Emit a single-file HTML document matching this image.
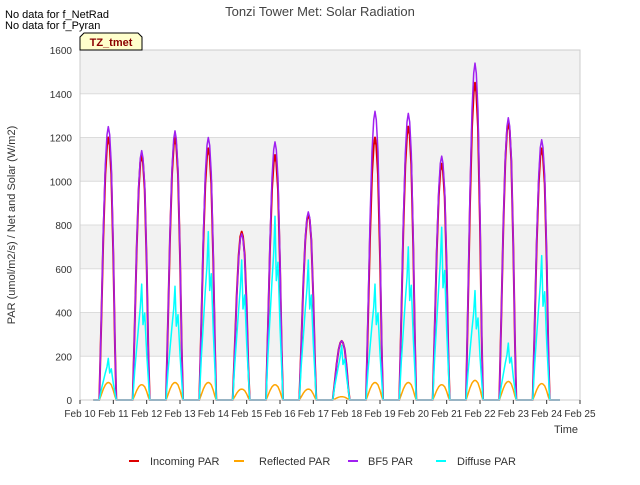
<!DOCTYPE html>
<html><head><meta charset="utf-8"><style>
body{margin:0;background:#fff;font-family:"Liberation Sans",sans-serif}
text{font-family:"Liberation Sans",sans-serif}
</style></head><body>
<svg id="chart" width="640" height="480" viewBox="0 0 640 480" xmlns="http://www.w3.org/2000/svg">
<rect width="640" height="480" fill="#fff"/>
<g id="bg"></g>
<g id="series"></g>
<g id="axes"></g>
<text x="320" y="16" text-anchor="middle" font-size="13" fill="#444">Tonzi Tower Met: Solar Radiation</text>
<text x="5" y="18" font-size="11" fill="#000">No data for f_NetRad</text>
<text x="5" y="29" font-size="11" fill="#000">No data for f_Pyran</text>
<g>
<path d="M80,50 L80,37 L84,33 L138,33 L142,37 L142,50 Z" fill="#ffffcc" stroke="#000" stroke-width="1"/>
<text x="111" y="46" text-anchor="middle" font-size="11" font-weight="bold" fill="#8b0000">TZ_tmet</text>
</g>
<text x="15" y="225" font-size="11" fill="#333" text-anchor="middle" transform="rotate(-90 15 225)">PAR (umol/m2/s) / Net and Solar (W/m2)</text>
<text x="566" y="433" font-size="11" fill="#333" text-anchor="middle">Time</text>
<g id="legend"></g>
</svg>
<script>
const dayLabels=["Feb 10","Feb 11","Feb 12","Feb 13","Feb 14","Feb 15","Feb 16","Feb 17","Feb 18","Feb 19","Feb 20","Feb 21","Feb 22","Feb 23","Feb 24","Feb 25"];
const yTicks=[0,200,400,600,800,1000,1200,1400,1600];
const bf5Peaks=[1250,1140,1230,1200,760,1180,860,270,1320,1310,1115,1540,1290,1190];
const incomingPeaks=[1200,1120,1200,1150,770,1120,850,270,1200,1250,1080,1450,1270,1150];
const diffusePeaks=[190,530,520,770,640,840,640,250,530,700,790,500,260,660];
const reflectedPeaks=[80,70,80,80,50,70,50,15,80,80,70,90,85,75];
const shapeT=[0.58,0.64,0.7,0.76,0.81,0.85,0.89,0.94,1.0,1.05,1.09];
const shapeF=[0,0.3,0.62,0.86,0.97,1,0.97,0.86,0.55,0.2,0];
const diffT=[0.58,0.64,0.7,0.76,0.81,0.85,0.89,0.94,1.0,1.09];
const diffF=[0,0.25,0.45,0.65,0.8,1,0.65,0.75,0.4,0];

const NS="http://www.w3.org/2000/svg";
const X0=80,X1=580,Y0=400,Y1=50;
const xs=t=>X0+(t/15)*(X1-X0);
const ys=v=>Y0-(v/1600)*(Y0-Y1);
function mk(tag,attrs,parent){const e=document.createElementNS(NS,tag);for(const k in attrs)e.setAttribute(k,attrs[k]);parent.appendChild(e);return e;}
const bg=document.getElementById('bg'),ax=document.getElementById('axes'),sg=document.getElementById('series'),lg=document.getElementById('legend');
mk('rect',{x:X0,y:Y1,width:X1-X0,height:Y0-Y1,fill:'#fff'},bg);
for(let i=0;i<yTicks.length-1;i++){
  if(i%2===1){const r=mk('rect',{x:X0,y:ys(yTicks[i+1]),width:X1-X0,height:ys(yTicks[i])-ys(yTicks[i+1]),fill:'#f2f2f2'},bg);
  
  }
}
yTicks.forEach(v=>{
  const l=mk('line',{x1:X0,x2:X1,y1:ys(v),y2:ys(v),stroke:'#dcdcdc','stroke-width':1},bg);
  
  
  const t=mk('text',{x:X0-8,y:ys(v)+4,'text-anchor':'end','font-size':10,fill:'#333'},ax);
  t.textContent=v;
  
  
});
mk('rect',{x:X0,y:Y1,width:X1-X0,height:Y0-Y1,fill:'none',stroke:'#ccc'},ax);
dayLabels.forEach((d,i)=>{
  mk('line',{x1:xs(i),x2:xs(i),y1:Y0,y2:Y0+4,stroke:'#333'},ax);
  const t=mk('text',{x:xs(i),y:Y0+17,'text-anchor':'middle','font-size':10,fill:'#333'},ax);
  t.textContent=d;
  
  
});
function series(peaks,T,F,color,w,name){
  let pts=[[0.4,0]];
  peaks.forEach((p,d)=>{T.forEach((t,j)=>pts.push([d+t,p*F[j]]));});
  pts.push([14.4,0]);
  const p=mk('polyline',{points:pts.map(q=>xs(q[0]).toFixed(1)+','+ys(q[1]).toFixed(1)).join(' '),fill:'none',stroke:color,'stroke-width':w,'stroke-linejoin':'round'},sg);
  
  
}
series(incomingPeaks,shapeT,shapeF,'#dd0000',2,'incoming-par-line');
series(reflectedPeaks,shapeT,shapeF,'#ffa500',1.5,'reflected-par-line');
series(bf5Peaks,shapeT,shapeF,'#a020f0',1.5,'bf5-par-line');
series(diffusePeaks,diffT,diffF,'#00ffff',1.5,'diffuse-par-line');
const legItems=[['Incoming PAR','#dd0000',127,150],['Reflected PAR','#ffa500',232,259],['BF5 PAR','#a020f0',346,368],['Diffuse PAR','#00ffff',434,457]];
legItems.forEach(([n,c,lx,tx])=>{
  const g=mk('g',{},lg);
  
  
  mk('line',{x1:lx+2,x2:lx+12,y1:461,y2:461,stroke:c,'stroke-width':2},g);
  const t=mk('text',{x:tx,y:465,'font-size':11,fill:'#333'},g);t.textContent=n;
});
</script>
</body></html>
